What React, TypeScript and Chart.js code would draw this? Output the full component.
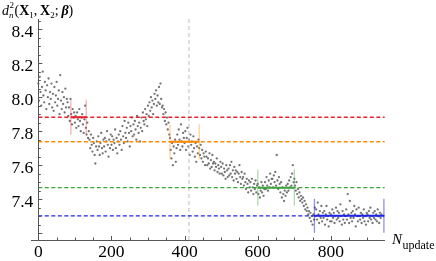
import React, { useEffect, useRef } from "react";
import { Chart, registerables } from "chart.js";

Chart.register(...registerables);

// ---- data -------------------------------------------------------------
const N_STEP = 2; // update index spacing between samples
const samples: number[] = [
  8.08, 7.98, 8.12, 8.03, 7.95, 8.06, 8.15, 8.01, 7.97, 8.09,
  8.04, 7.93, 8.07, 8.0, 8.11, 7.96, 8.03, 7.99, 8.08, 7.94,
  8.02, 7.92, 8.06, 7.97, 8.01, 8.09, 7.95, 7.99, 8.04, 7.9,
  8.13, 7.98, 7.93, 8.03, 7.96, 8.0, 7.91, 8.05, 7.94, 7.99,
  7.97, 7.89, 7.94, 7.86, 7.99, 7.9, 7.84, 7.93, 7.88, 7.91,
  7.85, 7.89, 7.82, 7.91, 7.87, 7.83, 7.93, 7.86, 7.8, 7.88,
  7.9, 7.84, 7.79, 7.87, 7.95, 7.82, 7.78, 7.85, 7.76, 7.8,
  7.75, 7.7, 7.78, 7.72, 7.68, 7.76, 7.73, 7.66, 7.61, 7.71,
  7.74, 7.69, 7.77, 7.71, 7.66, 7.73, 7.79, 7.7, 7.67, 7.75,
  7.71, 7.76, 7.68, 7.74, 7.8, 7.72, 7.65, 7.75, 7.7, 7.78,
  7.72, 7.77, 7.69, 7.75, 7.73, 7.81, 7.7, 7.76, 7.67, 7.74,
  7.78, 7.72, 7.8, 7.75, 7.69, 7.83, 7.77, 7.73, 7.86, 7.79,
  7.76, 7.82, 7.74, 7.85, 7.79, 7.71, 7.83, 7.8, 7.88, 7.77,
  7.84, 7.78, 7.86, 7.81, 7.75, 7.89, 7.83, 7.79, 7.85, 7.74,
  7.82, 7.88, 7.8, 7.91, 7.86, 7.84, 7.93, 7.87, 7.9, 7.83,
  7.95, 7.89, 7.97, 7.92, 8.0, 7.94, 7.98, 7.9, 7.96, 8.02,
  7.99, 8.04, 7.95, 8.01, 7.97, 8.06, 7.96, 8.08, 7.99, 7.94,
  7.95, 7.9, 7.93, 7.86, 7.91, 7.84, 7.88, 7.81, 7.85, 7.78,
  7.76, 7.69, 7.64, 7.73, 7.6, 7.71, 7.67, 7.75, 7.62, 7.7,
  7.78, 7.72, 7.81, 7.75, 7.69, 7.84, 7.74, 7.71, 7.79, 7.76,
  7.73, 7.8, 7.69, 7.76, 7.82, 7.71, 7.75, 7.66, 7.78, 7.72,
  7.74, 7.68, 7.77, 7.7, 7.65, 7.73, 7.62, 7.71, 7.67, 7.75,
  7.7, 7.66, 7.72, 7.64, 7.69, 7.62, 7.67, 7.65, 7.6, 7.68,
  7.65, 7.6, 7.64, 7.61, 7.67, 7.58, 7.63, 7.59, 7.66, 7.61,
  7.62, 7.57, 7.61, 7.59, 7.64, 7.56, 7.6, 7.58, 7.55, 7.62,
  7.59, 7.55, 7.61, 7.54, 7.58, 7.56, 7.52, 7.6, 7.57, 7.53,
  7.58, 7.54, 7.6, 7.55, 7.62, 7.53, 7.57, 7.51, 7.59, 7.55,
  7.57, 7.52, 7.56, 7.5, 7.55, 7.6, 7.53, 7.49, 7.56, 7.52,
  7.53, 7.48, 7.55, 7.5, 7.46, 7.52, 7.49, 7.44, 7.51, 7.47,
  7.5, 7.45, 7.52, 7.47, 7.43, 7.49, 7.46, 7.51, 7.44, 7.48,
  7.49, 7.43, 7.47, 7.41, 7.45, 7.5, 7.44, 7.48, 7.42, 7.46,
  7.5, 7.46, 7.53, 7.48, 7.45, 7.51, 7.47, 7.55, 7.49, 7.52,
  7.52, 7.47, 7.54, 7.5, 7.56, 7.48, 7.66, 7.51, 7.46, 7.53,
  7.49, 7.44, 7.5, 7.41, 7.47, 7.43, 7.39, 7.45, 7.42, 7.48,
  7.44, 7.49, 7.45, 7.51, 7.47, 7.53, 7.48, 7.55, 7.6, 7.5,
  7.52, 7.48, 7.45, 7.5, 7.43, 7.46, 7.41, 7.44, 7.39, 7.42,
  7.4, 7.38, 7.41, 7.36, 7.39, 7.34, 7.37, 7.33, 7.35, 7.31,
  7.33, 7.29, 7.32, 7.27, 7.3, 7.25, 7.31, 7.28, 7.35, 7.3,
  7.34, 7.28, 7.38, 7.31, 7.26, 7.33, 7.29, 7.36, 7.27, 7.32,
  7.29, 7.33, 7.25, 7.31, 7.36, 7.28, 7.3, 7.24, 7.32, 7.27,
  7.31, 7.27, 7.34, 7.29, 7.32, 7.26, 7.3, 7.35, 7.28, 7.33,
  7.29, 7.32, 7.27, 7.37, 7.3, 7.25, 7.33, 7.28, 7.31, 7.26,
  7.3, 7.34, 7.28, 7.43, 7.31, 7.26, 7.39, 7.29, 7.32, 7.27,
  7.33, 7.29, 7.36, 7.31, 7.24, 7.34, 7.3, 7.27, 7.35, 7.3,
  7.28, 7.32, 7.26, 7.31, 7.29, 7.34, 7.27, 7.3, 7.25, 7.32,
  7.31, 7.27, 7.33, 7.29, 7.35, 7.28, 7.3, 7.26, 7.32, 7.29,
  7.33, 7.28, 7.31, 7.27, 7.34, 7.3, 7.26, 7.32, 7.29, 7.31,
];

const levelValues: number[] = [7.882, 7.738, 7.468, 7.302];
const levelColors: string[] = ["#e8232b", "#ff8a00", "#3aa63a", "#1f23e8"];
const levelFaint: string[] = [
  "rgba(232,35,43,0.35)",
  "rgba(255,138,0,0.4)",
  "rgba(58,166,58,0.4)",
  "rgba(31,35,232,0.5)",
];
const segStart: number[] = [89, 360, 600, 755];
const segEnd: number[] = [131, 440, 700, 945];
const errHalf: number[] = [0.103, 0.103, 0.106, 0.1];
const markerN = 412;

const xTicks: number[] = [0, 200, 400, 600, 800];
const yTicks: number[] = [7.4, 7.6, 7.8, 8.0, 8.2, 8.4];
const X_MIN = -20;
const X_MAX = 948;
const Y_MIN = 7.16;
const Y_MAX = 8.46;

const SERIF = "'Liberation Serif', 'DejaVu Serif', serif";

// ---- custom axes plugin (Mathematica-like axes) -----------------------
const axesPlugin = {
  id: "mmaAxes",
  afterDraw(chart: any) {
    const ctx = chart.ctx as CanvasRenderingContext2D;
    const xs = chart.scales.x;
    const ys = chart.scales.y;
    const area = chart.chartArea;
    const x0 = xs.getPixelForValue(0);
    const yb = area.bottom;
    ctx.save();
    ctx.strokeStyle = "#555";
    ctx.lineWidth = 1;
    // axis lines
    ctx.beginPath();
    ctx.moveTo(area.left, yb + 0.5);
    ctx.lineTo(area.right, yb + 0.5);
    ctx.moveTo(Math.round(x0) + 0.5, yb);
    ctx.lineTo(Math.round(x0) + 0.5, area.top);
    ctx.stroke();
    // x ticks
    ctx.beginPath();
    for (let v = 0; v <= X_MAX; v += 50) {
      const px = Math.round(xs.getPixelForValue(v)) + 0.5;
      const len = v % 200 === 0 ? 4 : 2.5;
      ctx.moveTo(px, yb);
      ctx.lineTo(px, yb - len);
    }
    // y ticks
    for (let k = Math.ceil(Y_MIN / 0.05); k * 0.05 <= Y_MAX + 1e-9; k++) {
      const v = k * 0.05;
      const py = Math.round(ys.getPixelForValue(v)) + 0.5;
      const major = Math.abs(v * 5 - Math.round(v * 5)) < 1e-6;
      const len = major ? 4 : 2.5;
      ctx.moveTo(x0, py);
      ctx.lineTo(x0 + len, py);
    }
    ctx.stroke();

    // tick labels
    ctx.fillStyle = "#000";
    ctx.font = `17.5px ${SERIF}`;
    ctx.textBaseline = "alphabetic";
    ctx.textAlign = "center";
    xTicks.forEach((v) => {
      ctx.fillText(String(v), xs.getPixelForValue(v), yb + 16.7);
    });
    ctx.textAlign = "right";
    yTicks.forEach((v) => {
      ctx.fillText(v.toFixed(1), x0 - 5, ys.getPixelForValue(v) + 8.1);
    });

    // y axis title: d_n^2(X_1, X_2; beta)
    ctx.textAlign = "left";
    let x = 2;
    const base = 15;
    const put = (t: string, font: string, dy = 0) => {
      ctx.font = font;
      ctx.fillText(t, x, base + dy);
      return ctx.measureText(t).width;
    };
    x += put("d", `italic 14px ${SERIF}`);
    ctx.font = `9px ${SERIF}`;
    ctx.fillText("2", x + 0.5, base - 7);
    const wSup = ctx.measureText("2").width;
    ctx.font = `italic 9px ${SERIF}`;
    ctx.fillText("n", x, base + 3);
    const wSub = ctx.measureText("n").width;
    x += Math.max(wSup, wSub) + 1;
    x += put("(", `14px ${SERIF}`);
    x += put("X", `bold 14px ${SERIF}`);
    x += put("1", `9px ${SERIF}`, 3);
    x += put(",\u2009", `14px ${SERIF}`);
    x += put("X", `bold 14px ${SERIF}`);
    x += put("2", `9px ${SERIF}`, 3);
    x += put(";\u2009", `14px ${SERIF}`);
    x += put("\u03B2", `bold italic 14px ${SERIF}`);
    x += put(")", `14px ${SERIF}`);

    // x axis title: N_update
    ctx.font = `italic 15px ${SERIF}`;
    ctx.fillText("N", 392, 244);
    const wN = ctx.measureText("N").width;
    ctx.font = `12px ${SERIF}`;
    ctx.fillText("update", 392 + wN + 0.5, 249);
    ctx.restore();
  },
};

export default function App() {
  const ref = useRef<HTMLCanvasElement | null>(null);

  useEffect(() => {
    if (!ref.current) return;
    const datasets: any[] = [];
    datasets.push({
      data: samples.map((v, i) => ({ x: i * N_STEP, y: v })),
      showLine: false,
      pointRadius: 1.15,
      pointBorderWidth: 0,
      pointBackgroundColor: "rgba(100,100,100,0.9)",
      order: 10,
    });
    datasets.push({
      data: [
        { x: markerN, y: Y_MIN },
        { x: markerN, y: Y_MAX },
      ],
      showLine: true,
      borderColor: "#bdbdbd",
      borderWidth: 1,
      borderDash: [4, 3],
      pointRadius: 0,
      order: 9,
    });
    levelValues.forEach((lv, i) => {
      datasets.push({
        data: [
          { x: 0, y: lv },
          { x: X_MAX - 1, y: lv },
        ],
        showLine: true,
        borderColor: levelColors[i],
        borderWidth: 1.3,
        borderDash: [4, 2.5],
        pointRadius: 0,
        order: 5,
      });
      datasets.push({
        data: [
          { x: segStart[i], y: lv },
          { x: segEnd[i], y: lv },
        ],
        showLine: true,
        borderColor: levelColors[i],
        borderWidth: 2,
        pointRadius: 0,
        order: 4,
      });
      [segStart[i], segEnd[i]].forEach((sx) => {
        datasets.push({
          data: [
            { x: sx, y: lv - errHalf[i] },
            { x: sx, y: lv + errHalf[i] },
          ],
          showLine: true,
          borderColor: levelFaint[i],
          borderWidth: 1.3,
          pointRadius: 0,
          order: 3,
        });
      });
    });

    const chart = new Chart(ref.current, {
      type: "scatter",
      data: { datasets },
      options: {
        animation: false,
        responsive: false,
        events: [],
        layout: { padding: { left: 31, right: 51, top: 19, bottom: 21 } },
        plugins: { legend: { display: false }, tooltip: { enabled: false } },
        scales: {
          x: { type: "linear", min: X_MIN, max: X_MAX, display: false },
          y: { type: "linear", min: Y_MIN, max: Y_MAX, display: false },
        },
      },
      plugins: [axesPlugin],
    });
    return () => chart.destroy();
  }, []);

  return (
    <div style={{ position: "absolute", left: 0, top: 0, width: 436, height: 261, background: "#fff" }}>
      <canvas ref={ref} width={436} height={261} style={{ display: "block" }} />
    </div>
  );
}
